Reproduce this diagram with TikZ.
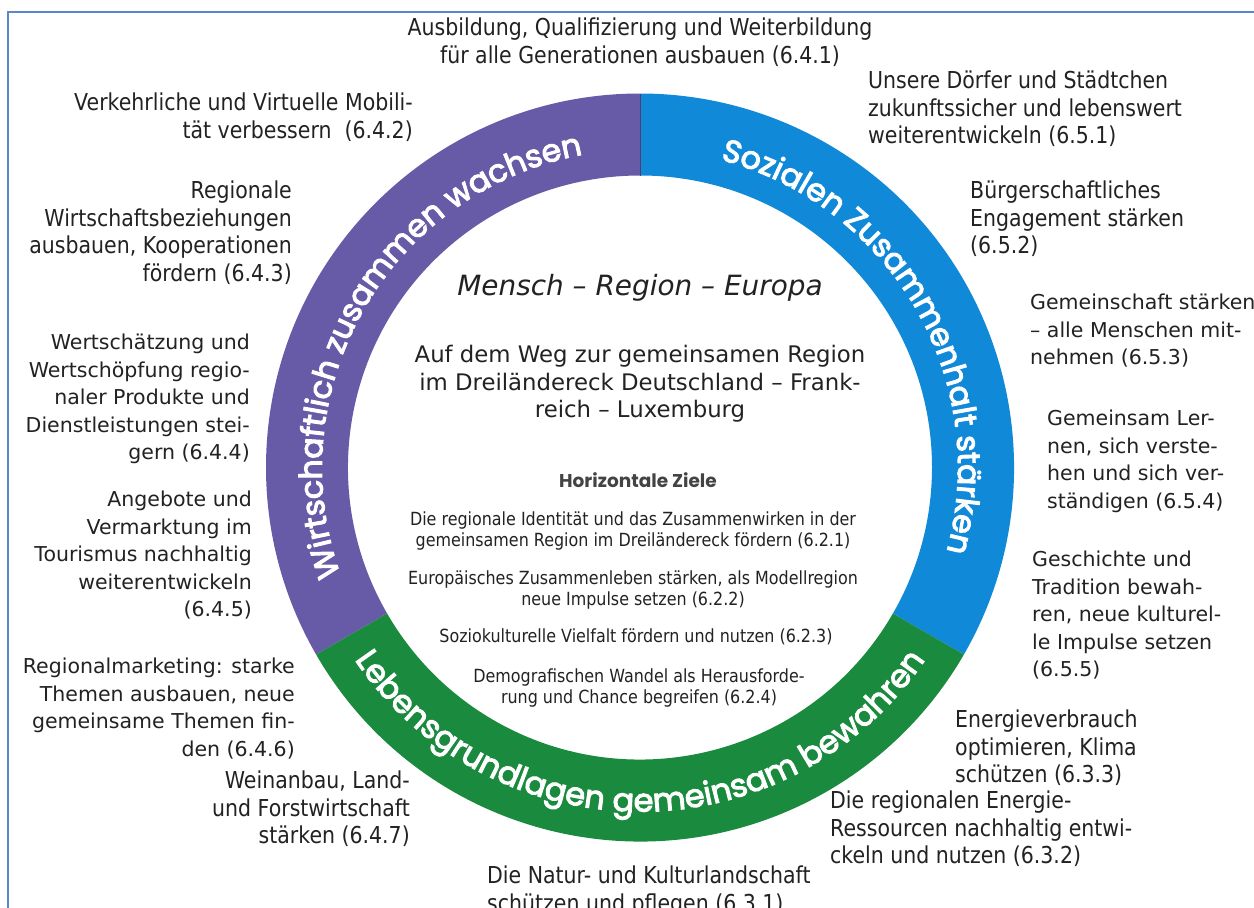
\documentclass[tikz,border=0pt]{standalone}
\usepackage{fontspec}
\setmainfont{DejaVu Sans}
\newfontfamily\tahoma[FakeStretch=0.88]{DejaVu Sans}
\newfontfamily\ringfont{Poppins}
\newfontfamily\ringfontm[FakeBold=3.2]{Poppins}
\usetikzlibrary{decorations.text}
\definecolor{purp}{HTML}{675BA7}
\definecolor{blu}{HTML}{1189D9}
\definecolor{grn}{HTML}{1A8B3E}
\definecolor{txt}{HTML}{222222}
\definecolor{frm}{HTML}{5B86C8}
\begin{document}
\begin{tikzpicture}[x=1pt,y=1pt,
  lv/.style={font=\fontsize{20.5}{27.5}\selectfont, inner sep=0pt, text=txt},
  lt/.style={font=\tahoma\fontsize{23.3}{27.5}\selectfont, inner sep=0pt, text=txt},
  li/.style={font=\tahoma\fontsize{18.1}{21}\selectfont, inner sep=0pt, text=txt, align=center, anchor=north},
  frame/.style={draw=frm, line width=2pt}
]
\useasboundingbox (0,0) rectangle (1254,-908);
\fill[white] (0,0) rectangle (1254,-908);
\clip (0,0) rectangle (1254,-908);
\draw[frame] (8,-910) -- (8,-12) -- (1256,-12);

% ring
\begin{scope}[shift={(640,-467.5)}]
  \fill[purp] (90:374) arc[start angle=90, end angle=210, radius=374] -- (210:292) arc[start angle=210, end angle=90, radius=292] -- cycle;
  \fill[blu] (-30:374) arc[start angle=-30, end angle=90, radius=374] -- (90:292) arc[start angle=90, end angle=-30, radius=292] -- cycle;
  \fill[grn] (210:374) arc[start angle=210, end angle=330, radius=374] -- (330:292) arc[start angle=330, end angle=210, radius=292] -- cycle;
  \draw[purp!70!black, line width=1pt] (90:292) -- (90:374);
  \path[decorate, decoration={text along path, text align=center, text color=white,
     text={|\ringfontm\fontsize{31.5}{32}\selectfont|Wirtschaftlich zusammen wachsen}}]
     (208:318) arc[start angle=208, end angle=92, radius=318];
  \path[decorate, decoration={text along path, text align=center, text color=white,
     text={|\ringfontm\fontsize{31.5}{32}\selectfont|Sozialen Zusammenhalt stärken}}]
     (88:318) arc[start angle=88, end angle=-28, radius=318];
  \path[decorate, decoration={text along path, text align=center, text color=white,
     text={|\ringfontm\fontsize{32}{32}\selectfont|Lebensgrundlagen gemeinsam bewahren}}]
     (212:344) arc[start angle=212, end angle=328, radius=344];
\end{scope}

% top
\node[lt, align=center, anchor=north] (t641) at (640,-18) {Ausbildung, Qualifizierung und Weiterbildung\\für alle Generationen ausbauen (6.4.1)};

% left
\node[lt, align=right, anchor=north east] (l642) at (413,-93) {Verkehrliche und Virtuelle Mobili-\\tät verbessern\ \ (6.4.2)};
\node[lt, align=right, anchor=north east] (l643) at (292,-181) {Regionale\\Wirtschaftsbeziehungen\\ausbauen, Kooperationen\\fördern (6.4.3)};
\node[lv, align=right, anchor=north east] (l644) at (250,-334) {Wertschätzung und\\Wertschöpfung regio-\\naler Produkte und\\Dienstleistungen stei-\\gern (6.4.4)};
\node[lv, align=right, anchor=north east] (l645) at (252,-491) {Angebote und\\Vermarktung im\\Tourismus nachhaltig\\weiterentwickeln\\(6.4.5)};
\node[lv, align=right, anchor=north east] (l646) at (295,-658) {Regionalmarketing: starke\\Themen ausbauen, neue\\gemeinsame Themen fin-\\den (6.4.6)};
\node[lt, align=right, anchor=north east] (l647) at (410,-771) {Weinanbau, Land-\\und Forstwirtschaft\\stärken (6.4.7)};

% bottom
\node[lt, align=left, anchor=north west] (b631) at (487,-866) {Die Natur- und Kulturlandschaft\\schützen und pflegen (6.3.1)};

% right
\node[lt, align=left, anchor=north west] (r651) at (868,-71) {Unsere Dörfer und Städtchen\\zukunftssicher und lebenswert\\weiterentwickeln (6.5.1)};
\node[lt, align=left, anchor=north west] (r652) at (970,-181) {Bürgerschaftliches\\Engagement stärken\\(6.5.2)};
\node[lv, align=left, anchor=north west] (r653) at (1030,-294) {Gemeinschaft stärken\\– alle Menschen mit-\\nehmen (6.5.3)};
\node[lv, align=left, anchor=north west] (r654) at (1047,-410) {Gemeinsam Ler-\\nen, sich verste-\\hen und sich ver-\\ständigen (6.5.4)};
\node[lv, align=left, anchor=north west] (r655) at (1032,-551) {Geschichte und\\Tradition bewah-\\ren, neue kulturel-\\le Impulse setzen\\(6.5.5)};
\node[lt, align=left, anchor=north west] (r633) at (955,-710) {Energieverbrauch\\optimieren, Klima\\schützen (6.3.3)};
\node[lt, align=left, anchor=north west] (r632) at (830,-791) {Die regionalen Energie-\\Ressourcen nachhaltig entwi-\\ckeln und nutzen (6.3.2)};

% inner
\node[font=\fontsize{27.9}{33}\selectfont\itshape, text=txt, inner sep=0pt, anchor=base] (mre) at (640,-295) {Mensch – Region – Europa};
\node[font=\fontsize{22.8}{27.5}\selectfont, text=txt, inner sep=0pt, align=center, anchor=north] (weg) at (640,-345) {Auf dem Weg zur gemeinsamen Region\\im Dreiländereck Deutschland – Frank-\\reich – Luxemburg};
\node[font=\ringfont\bfseries\fontsize{18.5}{20}\selectfont, text=txt!85, inner sep=0pt, anchor=base] (hz) at (638,-487) {Horizontale Ziele};
\node[li] (h621) at (633,-512) {Die regionale Identität und das Zusammenwirken in der\\gemeinsamen Region im Dreiländereck fördern (6.2.1)};
\node[li] (h622) at (633,-571) {Europäisches Zusammenleben stärken, als Modellregion\\neue Impulse setzen (6.2.2)};
\node[li] (h623) at (636,-629) {Soziokulturelle Vielfalt fördern und nutzen (6.2.3)};
\node[li] (h624) at (639,-669) {Demografischen Wandel als Herausforde-\\rung und Chance begreifen (6.2.4)};
\end{tikzpicture}
\end{document}
